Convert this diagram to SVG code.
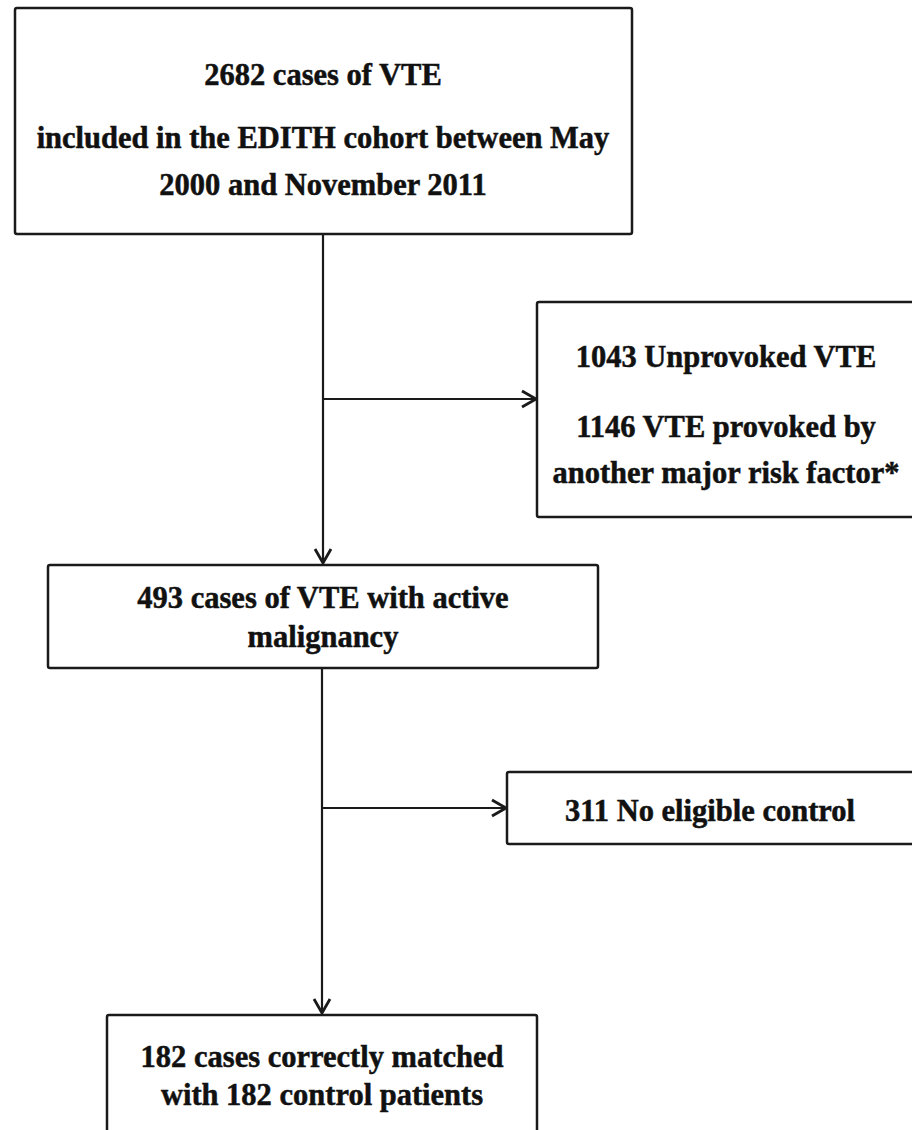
<svg xmlns="http://www.w3.org/2000/svg" width="912" height="1130" viewBox="0 0 912 1130">
<style>
.box{fill:#fff;stroke:#1a1a1a;stroke-width:2.5}
.t{font-family:"Liberation Serif","Times New Roman",serif;font-weight:bold;font-size:30.5px;fill:#111;stroke:#111;stroke-width:0.5;text-anchor:middle}
.c{fill:none;stroke:#1a1a1a;stroke-width:2.2}
</style>
<defs>
<marker id="arr" viewBox="0 0 20 20" refX="18" refY="10" markerWidth="20" markerHeight="20" markerUnits="userSpaceOnUse" orient="auto">
<path d="M4,2 L18,10 L4,18" fill="none" stroke="#1a1a1a" stroke-width="2.8"/>
</marker>
</defs>
<rect width="912" height="1130" fill="#fff"/>
<g id="connectors">
<path class="c" d="M323,234 V563" marker-end="url(#arr)"/>
<path class="c" d="M323,399 H536" marker-end="url(#arr)"/>
<path class="c" d="M322,668 V1013" marker-end="url(#arr)"/>
<path class="c" d="M322,808 H506" marker-end="url(#arr)"/>
</g>
<g id="n1">
<rect class="box" x="15" y="8" width="617" height="226" rx="2"/>
<text class="t" x="323" y="85">2682 cases of VTE</text>
<text class="t" x="323" y="148">included in the EDITH cohort between May</text>
<text class="t" x="323" y="195">2000 and November 2011</text>
</g>
<g id="n2">
<rect class="box" x="537" y="302" width="380" height="215" rx="2"/>
<text class="t" x="726" y="367">1043 Unprovoked VTE</text>
<text class="t" x="726" y="437">1146 VTE provoked by</text>
<text class="t" x="726" y="483">another major risk factor*</text>
</g>
<g id="n3">
<rect class="box" x="48" y="565" width="550" height="103" rx="2"/>
<text class="t" x="323" y="608">493 cases of VTE with active</text>
<text class="t" x="323" y="647">malignancy</text>
</g>
<g id="n4">
<rect class="box" x="507" y="772" width="410" height="72" rx="2"/>
<text class="t" x="710" y="821">311 No eligible control</text>
</g>
<g id="n5">
<rect class="box" x="107" y="1015" width="430" height="130" rx="2"/>
<text class="t" x="322" y="1067">182 cases correctly matched</text>
<text class="t" x="322" y="1105">with 182 control patients</text>
</g>
</svg>
